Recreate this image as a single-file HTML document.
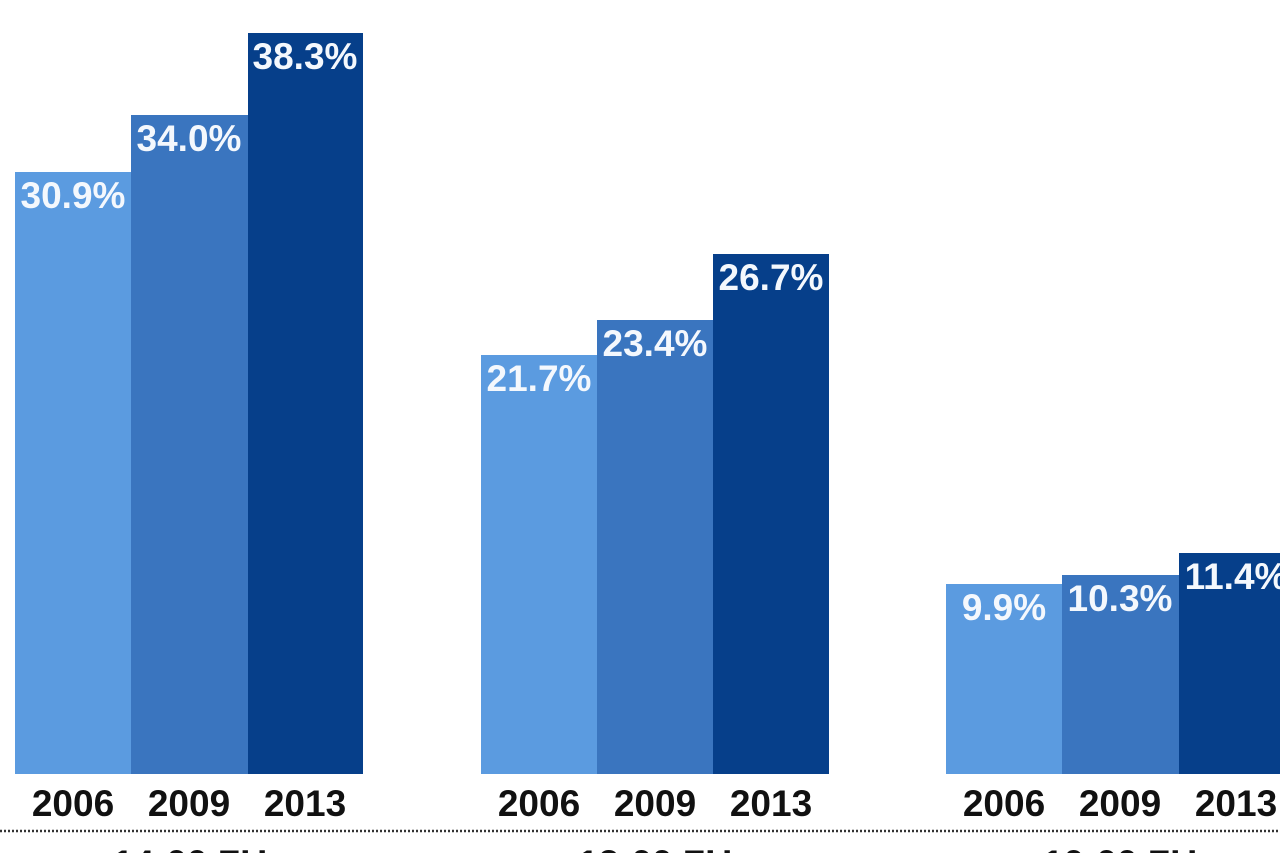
<!DOCTYPE html>
<html><head><meta charset="utf-8"><style>
html,body{margin:0;padding:0;background:#fff;width:1280px;height:853px;overflow:hidden}
</style></head><body>
<svg width="1280" height="853" xmlns="http://www.w3.org/2000/svg" font-family="Liberation Sans, Arial, sans-serif" font-weight="bold">
<g>
<rect x="15" y="172" width="116" height="602" fill="#5b9be0"/>
<rect x="131" y="115" width="117" height="659" fill="#3a75bf"/>
<rect x="248" y="33" width="115" height="741" fill="#063f8a"/>
<rect x="481" y="355" width="116" height="419" fill="#5b9be0"/>
<rect x="597" y="320" width="116" height="454" fill="#3a75bf"/>
<rect x="713" y="254" width="116" height="520" fill="#063f8a"/>
<rect x="946" y="584" width="116" height="190" fill="#5b9be0"/>
<rect x="1062" y="575" width="117" height="199" fill="#3a75bf"/>
<rect x="1179" y="553" width="110" height="221" fill="#063f8a"/>
</g>
<g fill="#f4f8fd" font-size="37" text-anchor="middle">
<text x="73" y="208">30.9%</text>
<text x="189" y="151">34.0%</text>
<text x="305" y="69">38.3%</text>
<text x="539" y="391">21.7%</text>
<text x="655" y="356">23.4%</text>
<text x="771" y="290">26.7%</text>
<text x="1004" y="620">9.9%</text>
<text x="1120" y="611">10.3%</text>
<text x="1236" y="589">11.4%</text>
</g>
<g fill="#111" font-size="37" text-anchor="middle">
<text x="73" y="816">2006</text>
<text x="189" y="816">2009</text>
<text x="305" y="816">2013</text>
<text x="539" y="816">2006</text>
<text x="655" y="816">2009</text>
<text x="771" y="816">2013</text>
<text x="1004" y="816">2006</text>
<text x="1120" y="816">2009</text>
<text x="1236" y="816">2013</text>
</g>
<line x1="0" y1="831" x2="1280" y2="831" stroke="#333" stroke-width="2.5" stroke-dasharray="2,2"/>
<g fill="#111" font-size="37" text-anchor="middle">
<text x="190" y="876">14:00 ZU</text>
<text x="655" y="876">12:00 ZU</text>
<text x="1120" y="876">10:00 ZU</text>
</g>
</svg>
</body></html>
